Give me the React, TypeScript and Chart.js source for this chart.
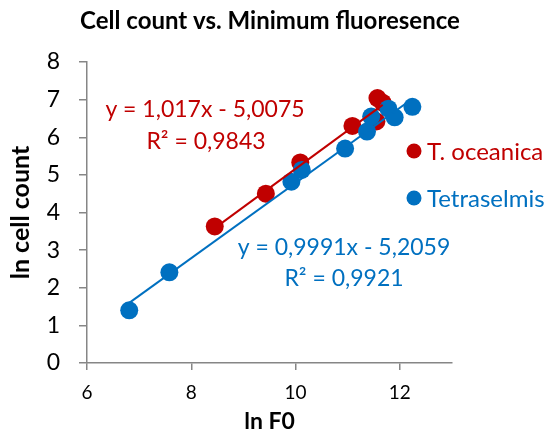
import React, { useEffect, useRef } from "react";
import { Chart, registerables } from "chart.js";

Chart.register(...registerables);

// T. oceanica
const redX = [8.45, 9.43, 10.09, 11.09, 11.55, 11.57, 11.67];
const redY = [3.63, 4.5, 5.33, 6.3, 6.42, 7.04, 6.92];
// Tetraselmis
const blueX = [6.81, 7.58, 9.92, 10.12, 10.95, 11.37, 11.45, 11.78, 11.9, 12.24];
const blueY = [1.4, 2.41, 4.82, 5.13, 5.7, 6.15, 6.55, 6.76, 6.53, 6.81];

const seriesNames = ["T. oceanica", "Tetraselmis"];
const redFit = [1.017, -5.0075];
const blueFit = [0.9991, -5.2059];
const redEq = ["y = 1,017x - 5,0075", "R² = 0,9843"];
const blueEq = ["y = 0,9991x - 5,2059", "R² = 0,9921"];
const xTicks = [6, 8, 10, 12];
const yTicks = [0, 1, 2, 3, 4, 5, 6, 7, 8];

const RED = "#C00000";
const BLUE = "#0070C0";
const FONT = "Lato, 'Open Sans', sans-serif";

function pts(xs: number[], ys: number[]) {
  return xs.map((x, i) => ({ x, y: ys[i] }));
}
function fitLine(xs: number[], fit: number[]) {
  const lo = Math.min(...xs);
  const hi = Math.max(...xs);
  return [
    { x: lo, y: fit[0] * lo + fit[1] },
    { x: hi, y: fit[0] * hi + fit[1] },
  ];
}

const overlay = {
  id: "overlay",
  afterDraw(chart: any) {
    const ctx = chart.ctx;
    ctx.save();
    // title
    ctx.fillStyle = "#000";
    ctx.font = `bold 24px ${FONT}`;
    ctx.textAlign = "center";
    ctx.textBaseline = "middle";
    ctx.fillText("Cell count vs. Minimum fluoresence", 270, 21);
    // equations
    ctx.font = `23px ${FONT}`;
    ctx.fillStyle = RED;
    ctx.fillText(redEq[0], 205, 110);
    ctx.fillText(redEq[1], 206, 142);
    ctx.fillStyle = BLUE;
    ctx.fillText(blueEq[0], 344, 248);
    ctx.fillText(blueEq[1], 344, 279);
    // legend
    const items = [
      { name: seriesNames[0], color: RED, y: 151 },
      { name: seriesNames[1], color: BLUE, y: 198 },
    ];
    ctx.textAlign = "left";
    ctx.font = `24px ${FONT}`;
    for (const it of items) {
      ctx.fillStyle = it.color;
      ctx.beginPath();
      ctx.arc(414, it.y, 7.5, 0, Math.PI * 2);
      ctx.fill();
      ctx.fillText(it.name, 427, it.y + 1);
    }
    ctx.restore();
  },
};

export default function App() {
  const ref = useRef<HTMLCanvasElement>(null);
  useEffect(() => {
    if (!ref.current) return;
    const chart = new Chart(ref.current, {
      type: "scatter",
      data: {
        datasets: [
          {
            label: "red fit",
            data: fitLine(redX, redFit),
            showLine: true,
            borderColor: RED,
            borderWidth: 2,
            pointRadius: 0,
          },
          {
            label: "blue fit",
            data: fitLine(blueX, blueFit),
            showLine: true,
            borderColor: BLUE,
            borderWidth: 2,
            pointRadius: 0,
          },
          {
            label: seriesNames[1],
            data: pts(blueX, blueY),
            backgroundColor: BLUE,
            borderColor: BLUE,
            borderWidth: 0,
            pointRadius: 9,
          },
          {
            label: seriesNames[0],
            data: pts(redX, redY),
            backgroundColor: RED,
            borderColor: RED,
            borderWidth: 0,
            pointRadius: 9,
          },
        ],
      },
      options: {
        responsive: false,
        animation: false,
        layout: { padding: { top: 62, right: 100, left: 0, bottom: 0 } },
        plugins: { legend: { display: false }, tooltip: { enabled: false }, title: { display: false } },
        scales: {
          x: {
            type: "linear",
            min: 6,
            max: 13,
            afterBuildTicks: (s: any) => {
              s.ticks = xTicks.map((v) => ({ value: v }));
            },
            afterFit: (s: any) => {
              s.height = 69;
            },
            grid: { display: true, drawOnChartArea: false, drawTicks: true, tickLength: 7, color: "#868686", lineWidth: 1.5 },
            border: { display: true, color: "#868686", width: 1.5 },
            ticks: { color: "#000", font: { family: FONT, size: 19 }, padding: 11 },
            title: { display: true, text: "ln F0", color: "#000", font: { family: FONT, size: 23, weight: "bold" }, padding: { top: 0, bottom: -3 } },
          },
          y: {
            type: "linear",
            min: 0,
            max: 8,
            afterBuildTicks: (s: any) => {
              s.ticks = yTicks.map((v) => ({ value: v }));
            },
            afterFit: (s: any) => {
              s.width = 87;
            },
            grid: { display: true, drawOnChartArea: false, drawTicks: true, tickLength: 8, color: "#868686", lineWidth: 1.5 },
            border: { display: true, color: "#868686", width: 1.5 },
            ticks: { color: "#000", font: { family: FONT, size: 23 }, padding: 19 },
            title: { display: true, text: "ln cell count", color: "#000", font: { family: FONT, size: 25, weight: "bold" }, padding: { top: 6, bottom: 0 } },
          },
        },
      },
      plugins: [overlay],
    } as any);
    return () => chart.destroy();
  }, []);
  return (
    <canvas
      ref={ref}
      width={552}
      height={432}
      style={{ position: "absolute", left: 0, top: 0, width: 552, height: 432 }}
    />
  );
}
